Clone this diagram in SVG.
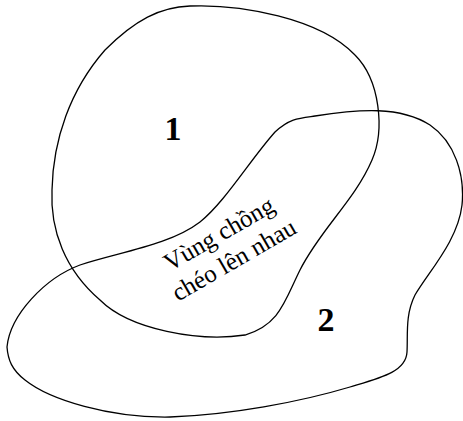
<svg xmlns="http://www.w3.org/2000/svg" width="463" height="421" viewBox="0 0 463 421">
<style>
.region{fill:none;stroke:#000;stroke-width:1.3}
.num{font-family:"Liberation Serif",serif;font-weight:bold;font-size:34px;fill:#000;text-anchor:middle}
.lbl{font-family:"Liberation Serif",serif;font-size:25px;fill:#000;text-anchor:middle}
</style>
<rect width="463" height="421" fill="#fff"/>
<g id="region1">
<path class="region" d="M190,6 C240,4 320,18 355,55 C380,80 385,130 372,160 C355,200 320,230 300,270 C285,300 280,325 245,335 C200,342 130,330 100,300 C65,270 50,230 52,190 C53,140 70,90 105,50 C135,20 160,7 190,6 Z"/>
<text class="num" x="173" y="140">1</text>
</g>
<g id="region2">
<path class="region" d="M7,347 C10,315 45,278 80,265 C120,252 170,245 200,222 C225,202 250,160 275,132 C290,118 300,118 315,116 C360,109 400,106 430,125 C455,142 465,175 462,205 C458,240 430,270 415,295 C405,315 408,335 407,352 C406,372 380,378 350,387 C300,402 230,415 170,417 C110,418 50,400 25,380 C12,370 8,360 7,347 Z"/>
<text class="num" x="326" y="331">2</text>
</g>
<g id="overlap">
<g transform="translate(223,241) rotate(-30)">
<text class="lbl" x="0" y="0">Vùng chồng</text>
<text class="lbl" x="0" y="30">chéo lên nhau</text>
</g>
</g>
</svg>
